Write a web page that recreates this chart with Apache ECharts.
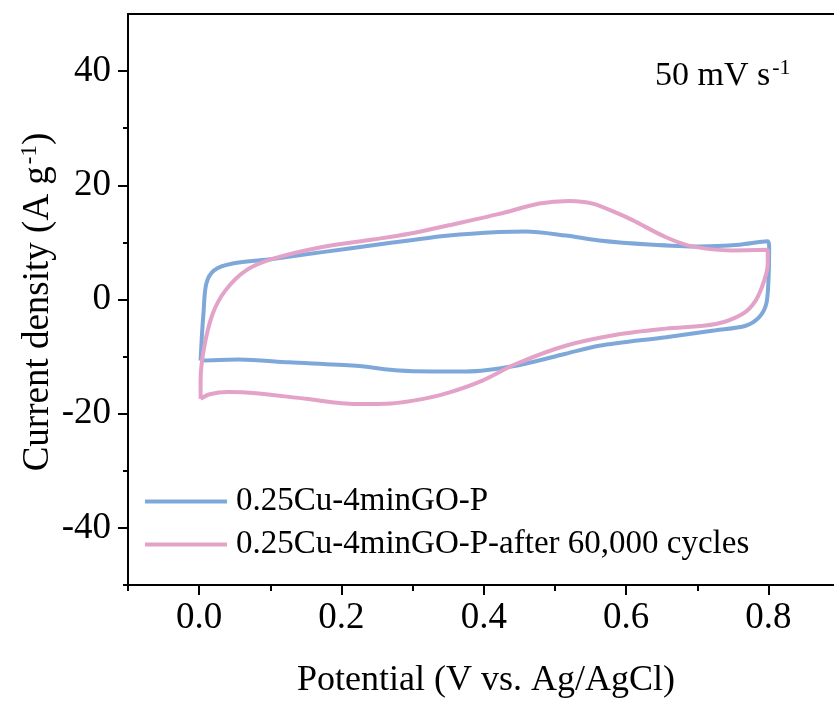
<!DOCTYPE html>
<html>
<head>
<meta charset="utf-8">
<script src="https://cdn.jsdelivr.net/npm/echarts@6/dist/echarts.min.js"></script>
<style>
html,body{margin:0;padding:0;background:#fff;}
#chart{width:834px;height:704px;}
</style>
</head>
<body>
<div id="chart"></div>
<script>
// ---- data ----
const seriesNames = ['0.25Cu-4minGO-P', '0.25Cu-4minGO-P-after 60,000 cycles'];

const blueX = [0.002, 0.004, 0.006, 0.010, 0.021, 0.047, 0.103, 0.173, 0.244, 0.295, 0.351, 0.422, 0.459, 0.515, 0.562, 0.632, 0.703, 0.759, 0.799, 0.801, 0.800, 0.797, 0.787, 0.768, 0.726, 0.656, 0.562, 0.515, 0.445, 0.375, 0.328, 0.281, 0.220, 0.126, 0.056, 0.002];
const blueY = [-10.7, -6.0, -2.5, 2.75, 5.1, 6.3, 7.1, 8.3, 9.5, 10.35, 11.2, 11.8, 11.9, 11.2, 10.35, 9.65, 9.3, 9.6, 10.2, 9.2, 3.3, -0.75, -3.1, -4.6, -5.4, -6.6, -8.1, -9.5, -11.6, -12.6, -12.6, -12.45, -11.6, -11.0, -10.5, -10.7];

const pinkX = [0.002, 0.002, 0.007, 0.019, 0.037, 0.066, 0.103, 0.173, 0.244, 0.295, 0.351, 0.422, 0.478, 0.520, 0.553, 0.590, 0.609, 0.656, 0.693, 0.749, 0.799, 0.799, 0.794, 0.782, 0.764, 0.726, 0.656, 0.590, 0.515, 0.445, 0.398, 0.351, 0.315, 0.270, 0.220, 0.150, 0.080, 0.040, 0.015, 0.002];
const pinkY = [-17.4, -14.2, -8.4, -2.5, 1.6, 5.1, 7.1, 9.2, 10.5, 11.5, 13.0, 15.0, 16.8, 17.25, 16.8, 15.0, 13.9, 10.9, 9.3, 8.6, 8.7, 6.3, 3.3, -0.2, -2.5, -4.3, -5.1, -6.1, -8.1, -11.3, -14.2, -16.3, -17.4, -18.2, -18.3, -17.4, -16.4, -16.2, -16.6, -17.4];

const xMajorTicks = [0.0, 0.2, 0.4, 0.6, 0.8];
const xTickLabels = ['0.0', '0.2', '0.4', '0.6', '0.8'];
const xMinorTicks = [-0.1, 0.1, 0.3, 0.5, 0.7];
const yMajorTicks = [-40, -20, 0, 20, 40];
const yTickLabels = ['-40', '-20', '0', '20', '40'];
const yMinorTicks = [-50, -30, -10, 10, 30];

const xTitle = 'Potential (V vs. Ag/AgCl)';
const yTitleMain = 'Current density (A g';
const annotationMain = '50 mV s';

// ---- chart ----
const FONT = '"Liberation Serif", "Times New Roman", serif';
const BLUE = '#7ea8d9';
const PINK = '#e3a2c8';

function zip(xs, ys) { return xs.map((x, i) => [x, ys[i]]); }
function labelFrom(ticks, labels) {
  return v => {
    const i = ticks.findIndex(t => Math.abs(t - v) < 1e-9);
    return i >= 0 ? labels[i] : '';
  };
}

const chart = echarts.init(document.getElementById('chart'), null, {renderer: 'canvas'});
const axisLineStyle = {color: '#000', width: 2};

chart.setOption({
  animation: false,
  backgroundColor: '#fff',
  grid: {left: 128, top: 14, width: 711.6, height: 571, containLabel: false, outerBoundsMode: 'none'},
  xAxis: [
    {
      type: 'value', min: -0.1, max: 0.9, position: 'bottom',
      axisLine: {show: true, onZero: false, lineStyle: axisLineStyle},
      axisTick: {show: true, customValues: xMajorTicks, length: 10, lineStyle: {color: '#000', width: 2}},
      axisLabel: {show: true, customValues: xMajorTicks, formatter: labelFrom(xMajorTicks, xTickLabels),
        fontSize: 37, fontFamily: FONT, color: '#000', margin: 15},
      splitLine: {show: false}
    },
    {
      type: 'value', min: -0.1, max: 0.9, position: 'bottom',
      axisLine: {show: false, onZero: false},
      axisTick: {show: true, customValues: xMinorTicks, length: 6, lineStyle: {color: '#000', width: 2}},
      axisLabel: {show: false},
      splitLine: {show: false}
    },
    {
      type: 'value', min: -0.1, max: 0.9, position: 'top',
      axisLine: {show: true, onZero: false, lineStyle: axisLineStyle},
      axisTick: {show: false}, axisLabel: {show: false}, splitLine: {show: false}
    }
  ],
  yAxis: [
    {
      type: 'value', min: -50, max: 50, position: 'left',
      axisLine: {show: true, onZero: false, lineStyle: axisLineStyle},
      axisTick: {show: true, customValues: yMajorTicks, length: 10, lineStyle: {color: '#000', width: 2}},
      axisLabel: {show: true, customValues: yMajorTicks, formatter: labelFrom(yMajorTicks, yTickLabels),
        fontSize: 37, fontFamily: FONT, color: '#000', margin: 17},
      splitLine: {show: false}
    },
    {
      type: 'value', min: -50, max: 50, position: 'left', offset: 0,
      axisLine: {show: false, onZero: false},
      axisTick: {show: true, customValues: yMinorTicks, length: 5, lineStyle: {color: '#000', width: 2}},
      axisLabel: {show: false},
      splitLine: {show: false}
    }
  ],
  legend: {
    orient: 'vertical', left: 140, top: 479,
    icon: 'rect', itemWidth: 82, itemHeight: 4, itemGap: 8,
    textStyle: {fontSize: 33, fontFamily: FONT, color: '#000', lineHeight: 35, padding: [0, 0, 0, 4]},
    data: seriesNames
  },
  graphic: [
    {
      type: 'text', left: 655, top: 57,
      style: {
        text: '{a|' + annotationMain + '}{b|-1}',
        rich: {
          a: {fontSize: 34, fontFamily: FONT, fill: '#000', lineHeight: 38},
          b: {fontSize: 22, fontFamily: FONT, fill: '#000', verticalAlign: 'top', lineHeight: 38, padding: [0, 0, 15, 2]}
        }
      }
    },
    {
      type: 'text', x: 38, y: 302, rotation: Math.PI / 2,
      style: {
        text: '{a|' + yTitleMain + '}{b|-1}{a|)}',
        align: 'center', verticalAlign: 'middle',
        rich: {
          a: {fontSize: 37, fontFamily: FONT, fill: '#000', lineHeight: 40},
          b: {fontSize: 23, fontFamily: FONT, fill: '#000', lineHeight: 40, padding: [0, 0, 16, 2]}
        }
      }
    },
    {
      type: 'text', x: 486, y: 681,
      style: {text: xTitle, fontSize: 36, fontFamily: FONT, fill: '#000', align: 'center', verticalAlign: 'middle'}
    }
  ],
  series: [
    {
      name: seriesNames[0], type: 'line', xAxisIndex: 0, yAxisIndex: 0,
      data: zip(blueX, blueY), showSymbol: false, smooth: 0.3,
      lineStyle: {color: BLUE, width: 4}, itemStyle: {color: BLUE}
    },
    {
      name: seriesNames[1], type: 'line', xAxisIndex: 0, yAxisIndex: 0,
      data: zip(pinkX, pinkY), showSymbol: false, smooth: 0.3,
      lineStyle: {color: PINK, width: 4}, itemStyle: {color: PINK}
    }
  ]
});
</script>
</body>
</html>
